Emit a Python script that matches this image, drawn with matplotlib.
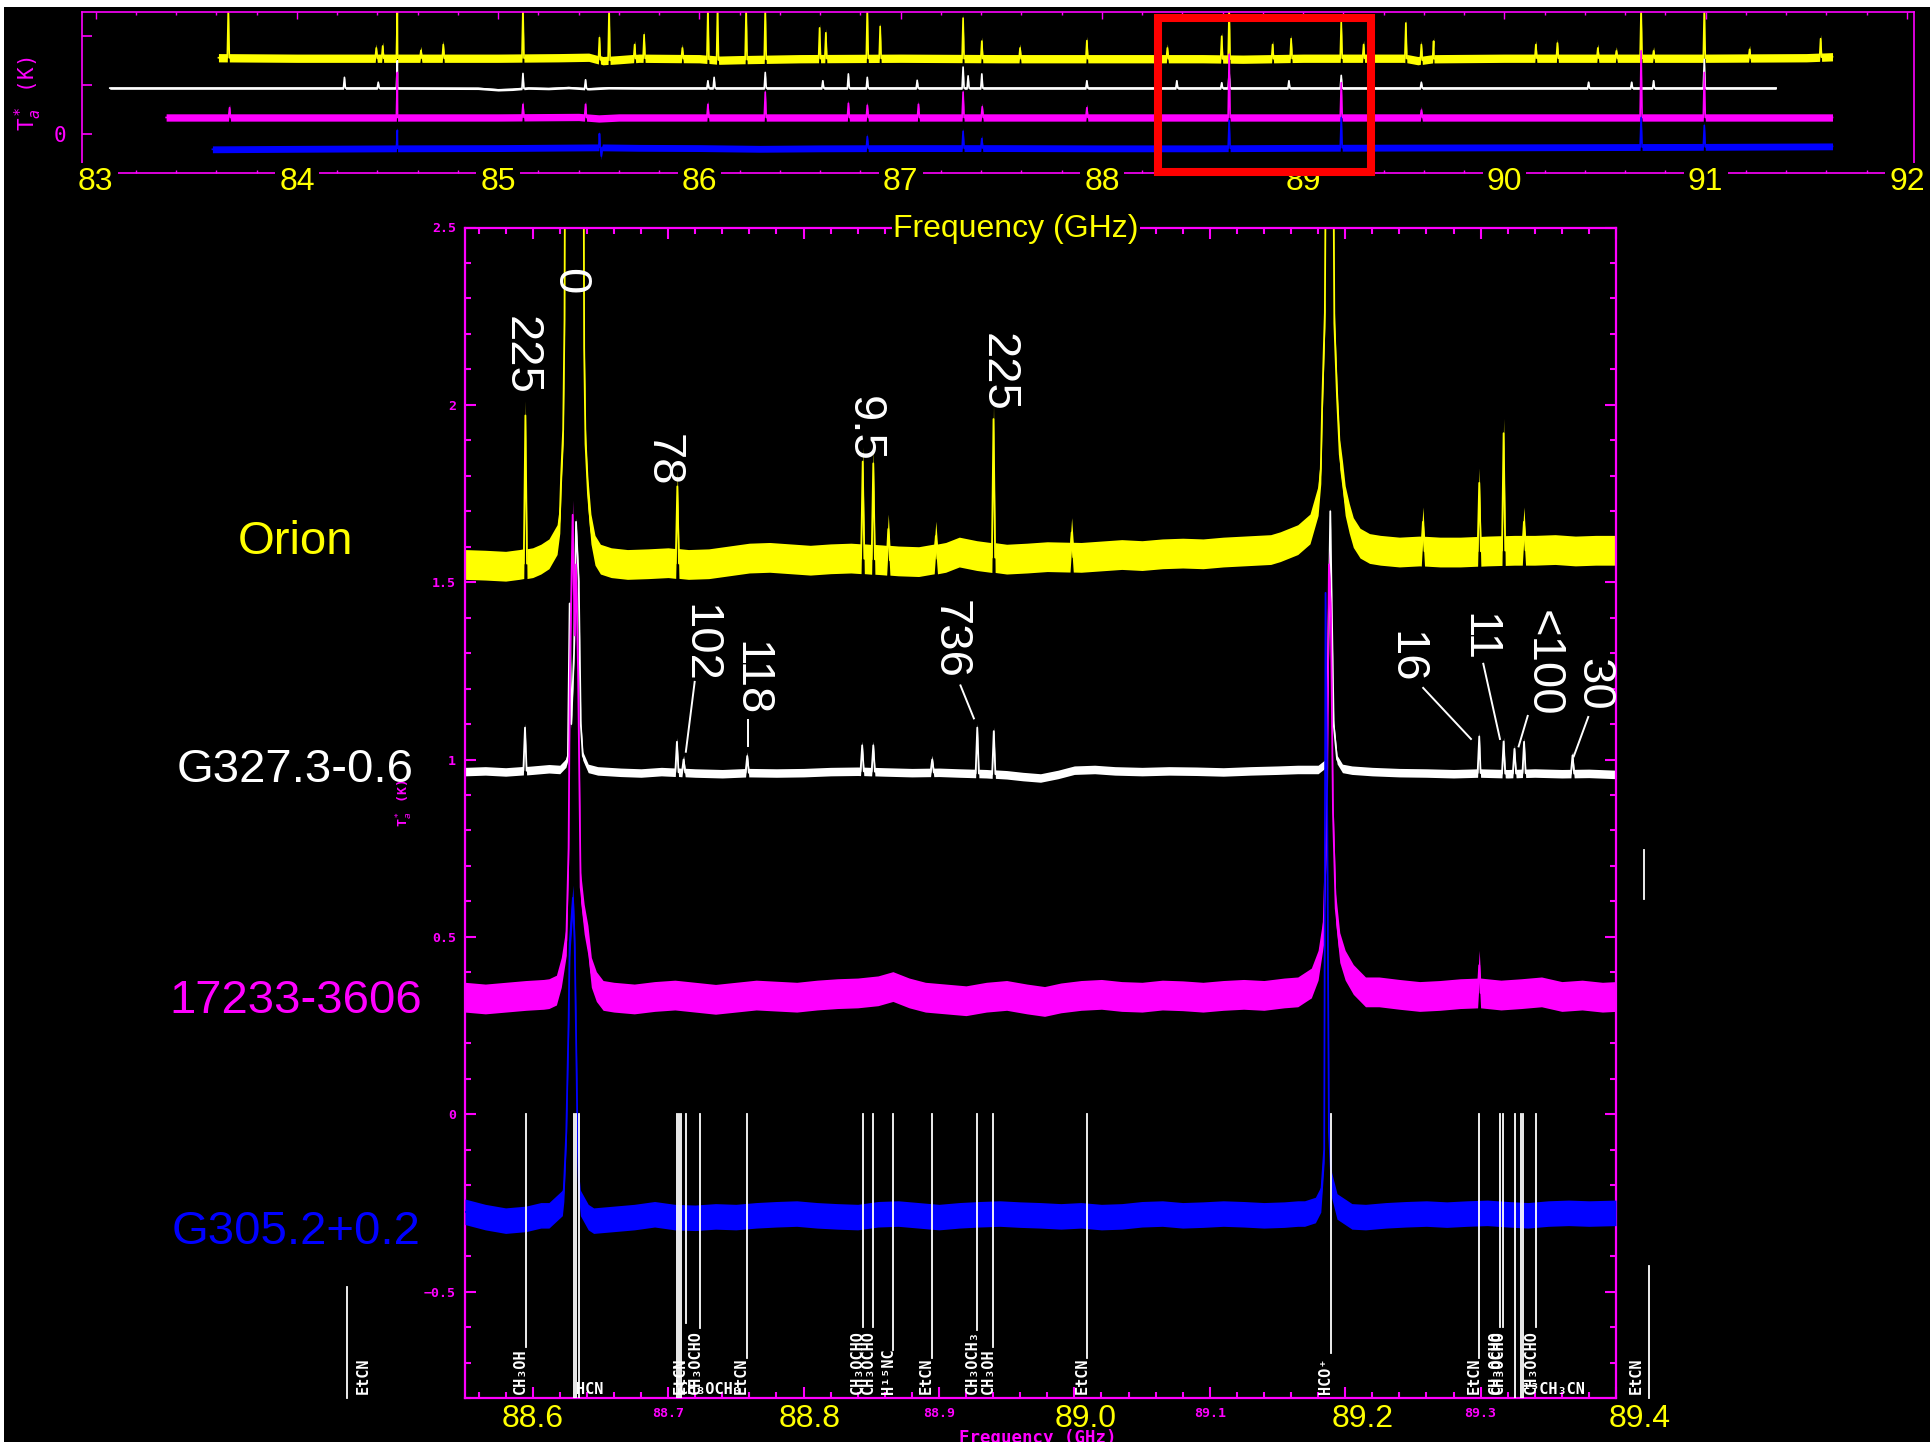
import numpy as np
import matplotlib
matplotlib.use("Agg")
import matplotlib.pyplot as plt
from matplotlib.patches import Rectangle
from matplotlib.ticker import MultipleLocator
from matplotlib import transforms

W, H, DPI = 1931, 1442, 100

# =========================== DATA ===========================
# ---- main panel, 88.55-89.40 GHz (offset spectra, K) ----
orion_base_f = [88.550, 88.565, 88.580, 88.590, 88.600, 88.606,
                88.658, 88.670, 88.685, 88.700, 88.715, 88.730, 88.745, 88.760, 88.775, 88.790,
                88.805, 88.820, 88.835, 88.858, 88.870, 88.885, 88.905, 88.915, 88.928, 88.950,
                88.965, 88.980, 89.005, 89.020, 89.035, 89.050, 89.065, 89.080, 89.095, 89.110,
                89.125, 89.145,
                89.226, 89.240, 89.255, 89.270, 89.285, 89.305, 89.325, 89.340, 89.355, 89.370,
                89.385, 89.400]
orion_base_v = [1.550, 1.548, 1.545, 1.550, 1.555, 1.565,
                1.555, 1.550, 1.552, 1.555, 1.550, 1.552, 1.560, 1.568, 1.570, 1.566,
                1.562, 1.566, 1.568, 1.563, 1.560, 1.558, 1.570, 1.585, 1.575, 1.565,
                1.568, 1.572, 1.570, 1.574, 1.578, 1.575, 1.580, 1.582, 1.580, 1.585,
                1.588, 1.592,
                1.590, 1.585, 1.588, 1.585, 1.585, 1.588, 1.590, 1.590, 1.592, 1.588,
                1.590, 1.590]
orion_prof_f = [88.612, 88.618, 88.620, 88.621, 88.6225, 88.6235, 88.6240, 88.6375, 88.6380,
                88.6390, 88.6408, 88.6430, 88.6460, 88.6500,
                89.152, 89.165, 89.174, 89.180, 89.182, 89.183, 89.185, 89.186, 89.191, 89.192,
                89.194, 89.196, 89.198, 89.200, 89.203, 89.206, 89.211, 89.218]
orion_prof_v = [1.580, 1.620, 1.680, 1.800, 1.930, 2.240, 2.900, 2.900, 2.160,
                1.890, 1.750, 1.650, 1.590, 1.565,
                1.600, 1.620, 1.650, 1.730, 1.820, 2.000, 2.260, 2.900, 2.900, 2.230,
                2.020, 1.860, 1.800, 1.730, 1.680, 1.640, 1.610, 1.595]
orion_line_f = [88.5946, 88.7068, 88.8437, 88.8515, 88.8626, 88.8977, 88.9403, 88.9980,
                89.2574, 89.2990, 89.3170, 89.3320]
orion_line_v = [1.970, 1.770, 1.840, 1.835, 1.650, 1.630, 1.960, 1.640,
                1.670, 1.780, 1.920, 1.670]

g327_base_f = [88.550, 88.565, 88.580, 88.600, 88.612,
               88.648, 88.665, 88.680, 88.695, 88.720, 88.740, 88.760, 88.780, 88.800, 88.820,
               88.840, 88.860, 88.880, 88.900, 88.915, 88.935, 88.950, 88.962, 88.975, 88.988,
               89.000, 89.015, 89.030, 89.050, 89.070, 89.090, 89.110, 89.130, 89.150, 89.165,
               89.175,
               89.205, 89.220, 89.240, 89.260, 89.280, 89.300, 89.320, 89.340, 89.360, 89.380,
               89.400]
g327_base_v = [0.966, 0.968, 0.965, 0.970, 0.974,
               0.968, 0.964, 0.962, 0.966, 0.962, 0.960, 0.963, 0.962, 0.963, 0.966,
               0.967, 0.965, 0.963, 0.964, 0.962, 0.960, 0.957, 0.952, 0.948, 0.958,
               0.970, 0.972, 0.968, 0.966, 0.968, 0.967, 0.965, 0.968, 0.970, 0.972,
               0.972,
               0.970, 0.966, 0.963, 0.962, 0.960, 0.962, 0.960, 0.962, 0.960, 0.961,
               0.958]
g327_prof_f = [88.620, 88.6245, 88.626, 88.6273, 88.6285, 88.6305, 88.632, 88.634, 88.6355,
               88.637, 88.641,
               89.180, 89.186, 89.1875, 89.189, 89.190, 89.1915, 89.194, 89.198]
g327_prof_v = [0.972, 0.990, 1.010, 1.440, 1.100, 1.300, 1.670, 1.500, 1.100,
               1.010, 0.975,
               0.972, 0.990, 1.300, 1.700, 1.450, 1.100, 1.000, 0.975]
g327_line_f = [88.5943, 88.7065, 88.7114, 88.7584, 88.8433, 88.8515, 88.8950, 88.9283,
               88.9405, 89.2990, 89.3170, 89.3250, 89.3321, 89.3679]
g327_line_v = [1.090, 1.050, 1.000, 1.010, 1.040, 1.040, 1.000, 1.090,
               1.080, 1.065, 1.051, 1.030, 1.050, 1.012]

i17233_base_f = [88.550, 88.565, 88.580, 88.595, 88.608,
                 88.660, 88.675, 88.690, 88.705, 88.720, 88.735, 88.750, 88.765, 88.780, 88.795,
                 88.810, 88.825, 88.840, 88.855, 88.866, 88.878, 88.890, 88.905, 88.920, 88.935,
                 88.950, 88.965, 88.978, 88.990, 89.005, 89.020, 89.035, 89.050, 89.065, 89.080,
                 89.095, 89.110, 89.125, 89.140, 89.155,
                 89.225, 89.240, 89.255, 89.270, 89.285, 89.300, 89.315, 89.330, 89.345, 89.360,
                 89.375, 89.390, 89.400]
i17233_base_v = [0.330, 0.325, 0.330, 0.335, 0.338,
                 0.330, 0.325, 0.332, 0.336, 0.330, 0.324, 0.330, 0.336, 0.333, 0.330,
                 0.336, 0.340, 0.342, 0.348, 0.360, 0.342, 0.330, 0.325, 0.320, 0.330,
                 0.335, 0.325, 0.318, 0.328, 0.335, 0.338, 0.332, 0.330, 0.336, 0.334,
                 0.330, 0.335, 0.338, 0.335, 0.342,
                 0.345, 0.338, 0.332, 0.335, 0.340, 0.342, 0.336, 0.340, 0.345, 0.332,
                 0.336, 0.330, 0.332]
i17233_prof_f = [88.612, 88.6175, 88.6211, 88.6248, 88.6265, 88.6275, 88.6295, 88.631, 88.632,
                 88.6335, 88.6354, 88.638, 88.6408, 88.6433, 88.647, 88.652,
                 89.165, 89.175, 89.180, 89.184, 89.1865, 89.188, 89.1895, 89.191, 89.193,
                 89.196, 89.200, 89.206, 89.215]
i17233_prof_v = [0.340, 0.350, 0.400, 0.490, 0.750, 1.250, 1.690, 1.350, 1.550,
                 1.250, 0.640, 0.550, 0.490, 0.400, 0.360, 0.335,
                 0.345, 0.370, 0.420, 0.520, 0.850, 1.550, 1.400, 0.850, 0.580,
                 0.470, 0.420, 0.380, 0.345]
i17233_line_f = [89.2990]
i17233_line_v = [0.420]

g305_base_f = [88.550, 88.565, 88.580, 88.595, 88.606,
               88.645, 88.660, 88.675, 88.690, 88.705, 88.720, 88.735, 88.750, 88.765, 88.780,
               88.795, 88.810, 88.825, 88.840, 88.855, 88.870, 88.885, 88.900, 88.915, 88.930,
               88.945, 88.960, 88.975, 88.990, 89.005, 89.020, 89.035, 89.050, 89.065, 89.080,
               89.095, 89.110, 89.125, 89.140, 89.155, 89.165,
               89.215, 89.230, 89.245, 89.260, 89.275, 89.290, 89.305, 89.320, 89.335, 89.350,
               89.365, 89.380, 89.400]
g305_base_v = [-0.275, -0.290, -0.300, -0.295, -0.285,
               -0.300, -0.295, -0.290, -0.282, -0.290, -0.292, -0.288, -0.290, -0.285, -0.282,
               -0.280, -0.285, -0.288, -0.290, -0.282, -0.280, -0.285, -0.290, -0.285, -0.282,
               -0.280, -0.283, -0.285, -0.288, -0.285, -0.290, -0.288, -0.282, -0.280, -0.285,
               -0.283, -0.280, -0.282, -0.285, -0.283, -0.280,
               -0.290, -0.285, -0.282, -0.280, -0.283, -0.280, -0.278, -0.282, -0.285, -0.280,
               -0.278, -0.280, -0.278]
g305_prof_f = [88.612, 88.6219, 88.623, 88.6248, 88.6265, 88.6273, 88.6297, 88.631, 88.6325,
               88.633, 88.6342, 88.6352, 88.641,
               89.170, 89.178, 89.182, 89.1845, 89.1855, 89.1868, 89.188, 89.190, 89.194, 89.205]
g305_prof_v = [-0.285, -0.250, -0.210, -0.050, 0.260, 0.480, 0.610, 0.480, 0.100,
               -0.050, -0.210, -0.250, -0.290,
               -0.280, -0.270, -0.240, -0.100, 1.470, 0.800, -0.050, -0.200, -0.260, -0.288]
g305_line_f = []
g305_line_v = []

# noise half-amplitude of each main-panel spectrum (K)
main_noise = [0.042, 0.012, 0.042, 0.036]

# ---- line identifications (white markers, main panel) ----
mark_f = [88.5947, 88.6304, 88.6318, 88.6339, 88.7065, 88.7080, 88.7094, 88.7130, 88.7236,
          88.7580, 88.8437, 88.8515, 88.8663, 88.8946, 88.9283, 88.9400, 89.0093, 89.1892,
          89.2990, 89.3143, 89.3167, 89.3251, 89.3300, 89.3312, 89.3409]
mark_end = [-0.655, -0.80, -0.80, -0.80, -0.80, -0.80, -0.80, -0.589, -0.603,
            -0.687, -0.599, -0.599, -0.665, -0.687, -0.608, -0.655, -0.687, -0.672,
            -0.687, -0.599, -0.599, -0.80, -0.80, -0.80, -0.599]
mark_label = ["CH₃OH", "", "HCN", "", "", "CH₃OCH₃", "", "EtCN", "CH₃OCHO",
              "EtCN", "CH₃OCHO", "CH₃OCHO", "H¹⁵NC", "EtCN", "CH₃OCH₃", "CH₃OH", "EtCN", "HCO⁺",
              "EtCN", "CH₃OCHO", "CH₃OCHO", "", "¹³CH₃CN", "", "CH₃OCHO"]
mark_kind = ["v", "", "h", "", "", "h", "", "v", "v",
             "v", "v", "v", "v", "v", "v", "v", "v", "v",
             "v", "v", "v", "", "h", "", "v"]
# markers lying just outside the frequency window
out_f = [88.4626, 89.4245]
out_top = [-0.487, -0.428]
out_label = ["EtCN", "EtCN"]
stub_f = [89.421]
stub_v = [0.607, 0.745]

# ---- annotations: upper-state energies (K) ----
orion_note_text = ["225", "0", "78", "9.5", "225"]
g327_note_text = ["102", "118", "736", "16", "11", "<100", "30"]

source_names = ["Orion", "G327.3-0.6", "17233-3606", "G305.2+0.2"]

# ---- overview panel, 83-92 GHz ----
top_orion_base_f = [83.61, 84.00, 84.50, 85.00, 85.30, 85.45, 85.52, 85.60, 85.70, 86.00, 86.10,
                    86.20, 86.50, 87.00, 87.50, 88.00, 88.50, 88.70, 89.00, 89.50, 89.57, 89.65,
                    90.00, 90.50, 91.00, 91.50, 91.63]
top_orion_base_v = [1.56, 1.55, 1.55, 1.55, 1.56, 1.57, 1.50, 1.52, 1.55, 1.54, 1.51,
                    1.52, 1.54, 1.55, 1.54, 1.54, 1.54, 1.53, 1.55, 1.55, 1.50, 1.54,
                    1.55, 1.55, 1.55, 1.56, 1.58]
top_orion_line_f = [83.659, 84.394, 84.426, 84.499, 84.616, 84.727, 85.123, 85.503, 85.551,
                    85.678, 85.725, 85.915, 86.042, 86.090, 86.232, 86.327, 86.597, 86.628,
                    86.834, 86.898, 87.310, 87.403, 87.593, 87.925, 88.325, 88.595, 88.632,
                    88.848, 88.940, 89.189, 89.300, 89.510, 89.587, 89.648, 90.156, 90.263,
                    90.464, 90.556, 90.679, 90.741, 90.993, 91.218, 91.571]
top_orion_line_v = [2.60, 1.76, 1.80, 2.60, 1.71, 1.83, 2.60, 1.97, 2.60,
                    1.83, 2.03, 1.76, 2.60, 2.60, 2.60, 2.60, 2.17, 2.07,
                    2.60, 2.20, 2.37, 1.90, 1.76, 1.91, 1.76, 2.00, 2.60,
                    1.83, 1.95, 2.30, 1.83, 2.27, 1.83, 1.90, 1.83, 1.86,
                    1.76, 1.70, 2.60, 1.70, 2.60, 1.73, 1.95]

top_g327_base_f = [83.07, 83.50, 84.00, 84.50, 84.90, 85.00, 85.07, 85.15, 85.25, 85.35, 85.45,
                   85.55, 85.70, 86.00, 86.50, 87.00, 87.50, 88.00, 88.50, 89.00, 89.50, 90.00,
                   90.50, 91.00, 91.35]
top_g327_base_v = [0.94, 0.94, 0.94, 0.94, 0.935, 0.905, 0.915, 0.94, 0.93, 0.95, 0.925,
                   0.945, 0.94, 0.94, 0.94, 0.94, 0.94, 0.94, 0.94, 0.94, 0.94, 0.94,
                   0.94, 0.94, 0.94]
top_g327_line_f = [84.236, 84.404, 84.499, 85.123, 85.434, 86.042, 86.073, 86.327, 86.613,
                   86.740, 86.834, 87.082, 87.310, 87.335, 87.403, 87.925, 88.372, 88.595,
                   88.632, 88.929, 89.189, 89.587, 90.418, 90.632, 90.741, 90.993]
top_g327_line_v = [1.16, 1.06, 1.50, 1.24, 1.11, 1.09, 1.16, 1.26, 1.09,
                   1.23, 1.16, 1.10, 1.37, 1.19, 1.23, 1.09, 1.09, 1.05,
                   1.25, 1.09, 1.20, 1.06, 1.06, 1.06, 1.09, 1.53]

top_i17233_base_f = [83.35, 84.00, 84.50, 85.00, 85.40, 85.50, 85.60, 86.00, 86.50, 87.00,
                     87.50, 88.00, 88.50, 89.00, 89.50, 90.00, 90.50, 91.00, 91.63]
top_i17233_base_v = [0.34, 0.34, 0.34, 0.34, 0.35, 0.32, 0.34, 0.34, 0.34, 0.34,
                     0.34, 0.34, 0.34, 0.34, 0.34, 0.34, 0.34, 0.34, 0.34]
top_i17233_line_f = [83.665, 84.499, 85.123, 85.434, 86.042, 86.327, 86.740, 86.834, 87.088,
                     87.310, 87.405, 87.925, 88.632, 89.189, 89.587, 90.679, 90.993]
top_i17233_line_v = [0.54, 1.26, 0.61, 0.61, 0.61, 0.86, 0.63, 0.59, 0.61,
                     0.86, 0.56, 0.54, 1.63, 1.05, 0.49, 1.70, 1.26]

top_g305_base_f = [83.58, 84.00, 84.50, 85.00, 85.50, 85.70, 86.00, 86.30, 86.60, 87.00,
                   87.50, 88.00, 88.50, 89.00, 89.50, 90.00, 90.50, 91.00, 91.63]
top_g305_base_v = [-0.31, -0.30, -0.29, -0.285, -0.27, -0.28, -0.285, -0.30, -0.29, -0.285,
                   -0.285, -0.29, -0.29, -0.28, -0.275, -0.27, -0.265, -0.26, -0.25]
top_g305_line_f = [84.499, 85.503, 85.512, 86.834, 87.310, 87.403, 88.632, 89.189, 90.679, 90.993]
top_g305_line_v = [0.08, 0.01, -0.45, -0.05, 0.06, -0.09, 0.28, 0.34, 0.34, 0.18]

top_noise = [0.085, 0.025, 0.075, 0.070]

top_xticks = [83, 84, 85, 86, 87, 88, 89, 90, 91, 92]
main_xticks = [88.6, 88.7, 88.8, 88.9, 89.0, 89.1, 89.2, 89.3, 89.4]
main_big_xticks = [88.6, 88.8, 89.0, 89.2, 89.4]
main_yticks = [-0.5, 0.0, 0.5, 1.0, 1.5, 2.0, 2.5]
main_ytick_labels = ["−0.5", "0", "0.5", "1", "1.5", "2", "2.5"]
zoom_box = [88.279, 89.337]          # frequency window marked on the overview

# =========================== STYLE / HELPERS ===========================
YEL, WHT, MAG, BLU = "#ffff00", "#ffffff", "#ff00ff", "#0000ff"
COLORS = [YEL, WHT, MAG, BLU]
SANS = "Liberation Sans"
MONO = "DejaVu Sans Mono"


def spectrum(base_f, base_v, prof_f, prof_v, line_f, line_v, hw):
    bf = np.asarray(base_f, float)
    bv = np.asarray(base_v, float)
    f = list(bf) + list(prof_f)
    v = list(bv) + list(prof_v)
    for lf, lv in zip(line_f, line_v):
        b = float(np.interp(lf, bf, bv))
        f += [lf - hw, lf, lf + hw]
        v += [b, lv, b]
    f = np.asarray(f, float)
    v = np.asarray(v, float)
    o = np.argsort(f, kind="stable")
    return f[o], v[o]


def draw(a, f, v, noise, color, lw, z):
    a.fill_between(f, v - noise, v + noise, color=color, lw=0, zorder=z)
    a.plot(f, v, color=color, lw=lw, zorder=z + 0.05)


fig = plt.figure(figsize=(W / DPI, H / DPI), dpi=DPI, facecolor="black")

ax_t = fig.add_axes([81.6 / W, 1 - 173.3 / H, (1914 - 81.6) / W, (173.3 - 11.7) / H],
                    facecolor="black")
ax = fig.add_axes([465 / W, 1 - 1398 / H, 1151 / W, 1170.5 / H], facecolor="black")

for a, lw in ((ax_t, 1.2), (ax, 1.6)):
    for s in a.spines.values():
        s.set_color(MAG)
        s.set_linewidth(lw)

# ---------------- overview panel ----------------
ax_t.set_xlim(82.93, 92.035)
ax_t.set_ylim(-0.8, 2.5)
ax_t.xaxis.set_major_locator(MultipleLocator(1))
ax_t.xaxis.set_minor_locator(MultipleLocator(0.2))
ax_t.set_yticks([0, 1, 2])
ax_t.set_yticklabels(["0", "", ""])
ax_t.tick_params(axis="x", which="both", direction="in", top=True, bottom=True,
                 labelbottom=False, color=MAG, width=1.0)
ax_t.tick_params(axis="x", which="major", length=5)
ax_t.tick_params(axis="x", which="minor", length=2.5)
ax_t.tick_params(axis="y", which="major", direction="in", length=7, width=1.2, color=MAG,
                 labelcolor=MAG, labelsize=15, pad=11)
for lbl in ax_t.get_yticklabels():
    lbl.set_fontfamily(MONO)

top_sets = [
    (top_orion_base_f, top_orion_base_v, top_orion_line_f, top_orion_line_v),
    (top_g327_base_f, top_g327_base_v, top_g327_line_f, top_g327_line_v),
    (top_i17233_base_f, top_i17233_base_v, top_i17233_line_f, top_i17233_line_v),
    (top_g305_base_f, top_g305_base_v, top_g305_line_f, top_g305_line_v),
]
for k, (bf, bv, lf, lv) in enumerate(top_sets):
    f, v = spectrum(bf, bv, [], [], lf, lv, 0.005)
    draw(ax_t, f, v, top_noise[k], COLORS[k], 1.2, 2 + 0.2 * k)

trt = transforms.blended_transform_factory(ax_t.transData, ax_t.transAxes)
for t in top_xticks:
    ax_t.text(t, -0.054, f"{t:d}", transform=trt, ha="center", va="center", color=YEL,
              fontsize=23, family=SANS, zorder=10, clip_on=False,
              bbox=dict(facecolor="black", edgecolor="none", pad=3))

ax_t.add_patch(Rectangle((zoom_box[0], -0.78), zoom_box[1] - zoom_box[0], 3.158, fill=False,
                         edgecolor="#ff0000", lw=5.8, clip_on=False, zorder=20))

fig.text(28.7 / W, 1 - 94 / H, r"T$_a^*$ (K)", rotation=90, color=MAG, fontsize=15,
         family=MONO, ha="center", va="center")
fig.text(1016 / W, 1 - 229 / H, "Frequency (GHz)", color=YEL, fontsize=23, family=SANS,
         ha="center", va="center", zorder=10,
         bbox=dict(facecolor="black", edgecolor="none", pad=1))

# ---------------- main panel ----------------
ax.set_xlim(88.55, 89.40)
ax.set_ylim(-0.8, 2.5)
ax.set_xticks(main_xticks)
# even ticks carry the large yellow labels instead (they hide the small ones)
ax.set_xticklabels(["" if t in main_big_xticks else f"{t:.1f}" for t in main_xticks])
ax.xaxis.set_minor_locator(MultipleLocator(0.02))
ax.set_yticks(main_yticks)
ax.set_yticklabels(main_ytick_labels)
ax.yaxis.set_minor_locator(MultipleLocator(0.1))
ax.tick_params(which="both", direction="in", top=True, right=True, color=MAG, width=1.5,
               labelcolor=MAG, labelsize=9.5, pad=6.5)
ax.tick_params(which="major", length=8)
ax.tick_params(which="minor", length=4.3)
for lbl in ax.get_xticklabels() + ax.get_yticklabels():
    lbl.set_fontfamily(MONO)
    lbl.set_fontweight("bold")

main_sets = [
    (orion_base_f, orion_base_v, orion_prof_f, orion_prof_v, orion_line_f, orion_line_v),
    (g327_base_f, g327_base_v, g327_prof_f, g327_prof_v, g327_line_f, g327_line_v),
    (i17233_base_f, i17233_base_v, i17233_prof_f, i17233_prof_v, i17233_line_f, i17233_line_v),
    (g305_base_f, g305_base_v, g305_prof_f, g305_prof_v, g305_line_f, g305_line_v),
]
for k, (bf, bv, pf, pv, lf, lv) in enumerate(main_sets):
    f, v = spectrum(bf, bv, pf, pv, lf, lv, 0.0012)
    draw(ax, f, v, main_noise[k], COLORS[k], 1.3, 2 + 0.2 * k)

# line-identification markers
off_v = transforms.offset_copy(ax.transData, fig=fig, x=-5, y=0, units="dots")
off_h = transforms.offset_copy(ax.transData, fig=fig, x=0, y=1, units="dots")
for f, end, lab, kind in zip(mark_f, mark_end, mark_label, mark_kind):
    ax.plot([f, f], [0, end], color=WHT, lw=1.3, zorder=5)
    if kind == "v":
        ax.text(f, -0.79, lab, rotation=90, transform=off_v, ha="center", va="bottom",
                color=WHT, fontsize=11, family=MONO, fontweight="bold", zorder=6)
    elif kind == "h":
        ax.text(f, -0.80, lab, transform=off_h, ha="left", va="bottom",
                color=WHT, fontsize=11, family=MONO, fontweight="bold", zorder=6)
out_dx = [17, -13]
for f, top, lab, dx in zip(out_f, out_top, out_label, out_dx):
    ax.plot([f, f], [top, -0.8], color=WHT, lw=1.3, clip_on=False, zorder=5)
    tr_o = transforms.offset_copy(ax.transData, fig=fig, x=dx, y=0, units="dots")
    ax.text(f, -0.79, lab, rotation=90, transform=tr_o, ha="center", va="bottom",
            color=WHT, fontsize=11, family=MONO, fontweight="bold", clip_on=False)
ax.plot([stub_f[0], stub_f[0]], stub_v, color=WHT, lw=1.3, clip_on=False)

# energy annotations
orion_note_pos = [(88.5914, 2.140), (88.6268, 2.349), (88.6962, 1.845), (88.8447, 1.932),
                  (88.9436, 2.090)]
g327_note_pos = [(88.7228, 1.327), (88.7608, 1.227), (88.9082, 1.338), (89.2442, 1.289),
                 (89.2981, 1.345), (89.3461, 1.272), (89.3830, 1.212)]
g327_leaders = [((88.7196, 1.219), (88.7131, 1.022)), ((88.7592, 1.112), (88.7592, 1.037)),
                ((88.9159, 1.209), (88.9258, 1.116)), ((89.2576, 1.202), (89.2929, 1.058)),
                ((89.3020, 1.270), (89.3143, 1.058)), ((89.3348, 1.123), (89.3281, 1.037)),
                ((89.3795, 1.120), (89.3688, 1.009))]
for txt, (x, y) in zip(orion_note_text + g327_note_text, orion_note_pos + g327_note_pos):
    ax.text(x, y, txt, rotation=270, ha="center", va="center", color=WHT, fontsize=34,
            family=SANS, zorder=8)
for (p0, p1) in g327_leaders:
    ax.plot([p0[0], p1[0]], [p0[1], p1[1]], color=WHT, lw=1.4, zorder=8)

# big yellow frequency labels
for t in main_big_xticks:
    xa = (t - 88.5512) / (89.3829 - 88.5512)
    ax.text(xa, -0.0179, f"{t:.1f}", transform=ax.transAxes, ha="center", va="center",
            color=YEL, fontsize=23, family=SANS, zorder=10, clip_on=False,
            bbox=dict(facecolor="black", edgecolor="none", pad=1.5))

fig.text(404.6 / W, 1 - 803 / H, r"T$_a^*$ (K)", rotation=90, color=MAG, fontsize=9.5,
         family=MONO, fontweight="bold", ha="center", va="center")
fig.text(1038 / W, 1 - 1429 / H, "Frequency (GHz)", color=MAG, fontsize=12.5, family=MONO,
         fontweight="bold", ha="center", va="top", zorder=1)

# source names
name_y = [541.8, 769.7, 1001.2, 1231.5]
for nm, yy, c in zip(source_names, name_y, COLORS):
    fig.text(295.6 / W, 1 - yy / H, nm, color=c, fontsize=34, family=SANS,
             ha="center", va="center")

# white frame strips of the original screenshot
fig.patches.append(Rectangle((0, 1 - 7 / H), 1, 7 / H, transform=fig.transFigure,
                             facecolor="white", edgecolor="none", zorder=100))
fig.patches.append(Rectangle((0, 0), 4 / W, 1, transform=fig.transFigure,
                             facecolor="white", edgecolor="none", zorder=100))

fig.savefig("out.png", dpi=DPI, facecolor="black")
